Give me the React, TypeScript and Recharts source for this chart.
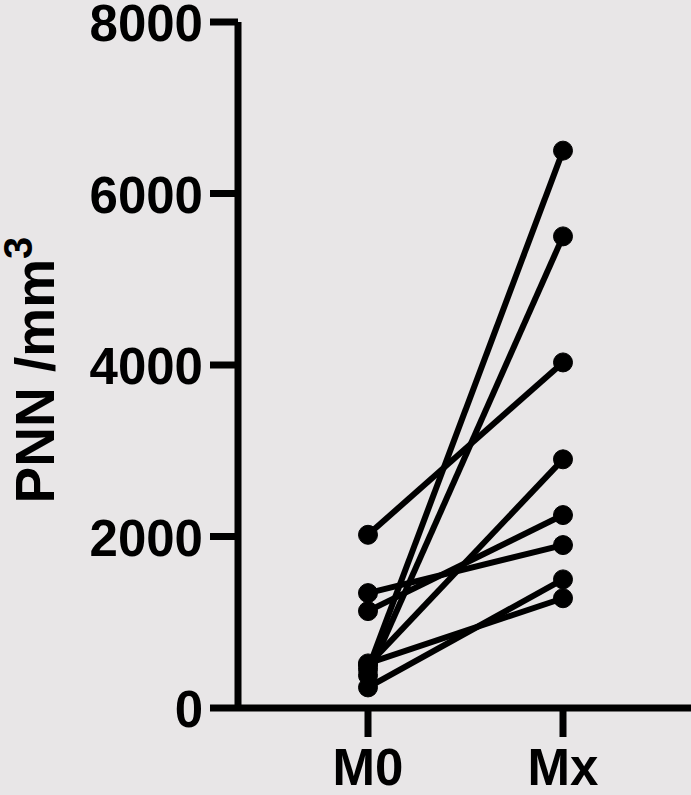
import { LineChart, Line, XAxis, YAxis } from "recharts";

const timepoints = ["M0", "Mx"];
const pnnM0 = [2020, 1340, 1130, 450, 380, 500, 520, 240];
const pnnMx = [4030, 1900, 2250, 6500, 5500, 2900, 1280, 1500];
const yTicks = [0, 2000, 4000, 6000, 8000];

const rows = timepoints.map((t, i) => {
  const row: Record<string, string | number> = { time: t };
  const vals = i === 0 ? pnnM0 : pnnMx;
  vals.forEach((v, k) => {
    row[`p${k}`] = v;
  });
  return row;
});

const FONT = "'Liberation Sans', Arial, sans-serif";
const INK = "#000";

const YTick = ({ y, payload }: { y?: number; payload?: { value: number } }) => (
  <text x={203} y={y} dy={19} textAnchor="end" fontFamily={FONT} fontWeight={700} fontSize={51} fill={INK}>
    {payload?.value}
  </text>
);

const XTick = ({ x, y, payload }: { x?: number; y?: number; payload?: { value: string } }) => (
  <text x={x} y={(y ?? 0) + 10} dy={36} textAnchor="middle" fontFamily={FONT} fontWeight={700} fontSize={51} fill={INK}>
    {payload?.value}
  </text>
);

export default function App() {
  return (
    <div style={{ position: "absolute", left: 0, top: 0, width: 691, height: 795, background: "#e8e6e7" }}>
      <LineChart width={691} height={795} data={rows} margin={{ top: 22, right: 0, bottom: 0, left: 0 }}>
        <XAxis
          dataKey="time"
          padding={{ left: 130, right: 128 }}
          axisLine={{ stroke: INK, strokeWidth: 7 }}
          tickLine={{ stroke: INK, strokeWidth: 7 }}
          tickSize={29}
          tick={<XTick />}
          height={87}
          interval={0}
        />
        <YAxis
          domain={[0, 8000]}
          ticks={yTicks}
          width={238}
          axisLine={{ stroke: INK, strokeWidth: 7 }}
          tickLine={{ stroke: INK, strokeWidth: 7 }}
          tickSize={28}
          tick={<YTick />}
          interval={0}
        />
        {pnnM0.map((_, k) => (
          <Line
            key={k}
            dataKey={`p${k}`}
            stroke={INK}
            strokeWidth={6}
            dot={{ r: 9.5, fill: INK, stroke: INK, strokeWidth: 1 }}
            isAnimationActive={false}
          />
        ))}
        <text
          transform="translate(54,370) rotate(-90)"
          textAnchor="middle"
          fontFamily={FONT}
          fontWeight={700}
          fontSize={55}
          fill={INK}
        >
          PNN /mm
          <tspan fontSize={40} dy={-22}>3</tspan>
        </text>
      </LineChart>
    </div>
  );
}
